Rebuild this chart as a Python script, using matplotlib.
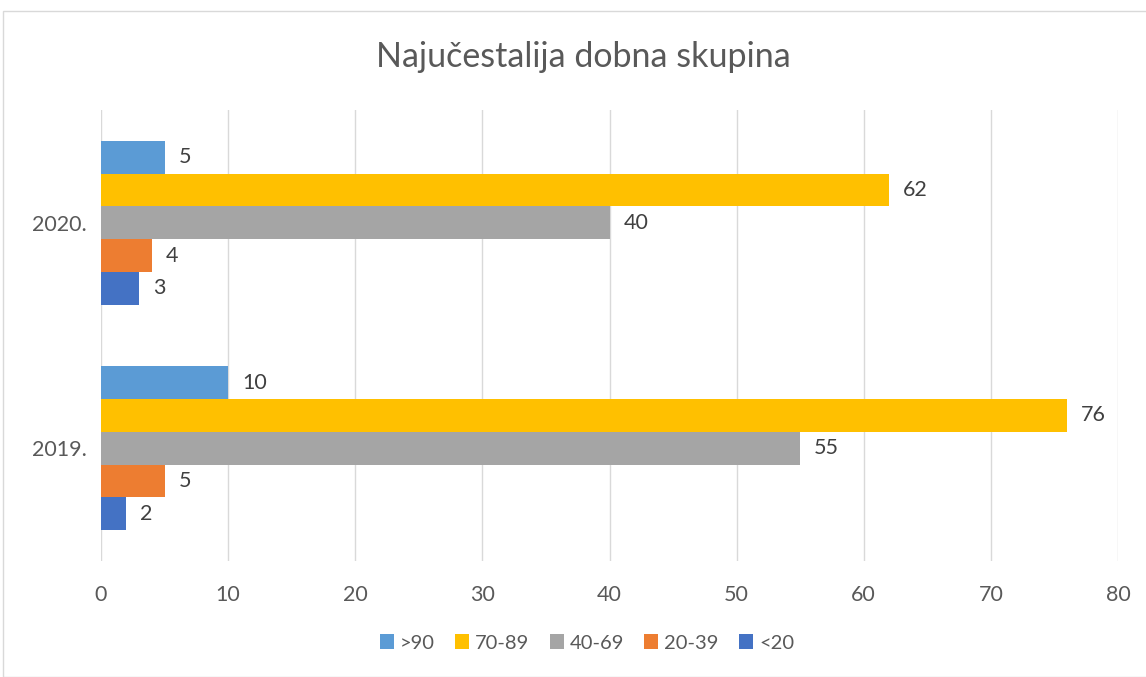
import matplotlib
matplotlib.use("Agg")
import matplotlib.pyplot as plt
import numpy as np
from matplotlib.patches import Rectangle

years = ["2019.", "2020."]
series = [">90", "70-89", "40-69", "20-39", "<20"]
values = {
    ">90":   [10, 5],
    "70-89": [76, 62],
    "40-69": [55, 40],
    "20-39": [5, 4],
    "<20":   [2, 3],
}
colors = {
    ">90": "#5B9BD5",
    "70-89": "#FFC000",
    "40-69": "#A5A5A5",
    "20-39": "#ED7D31",
    "<20": "#4472C4",
}
xticks = [0, 10, 20, 30, 40, 50, 60, 70, 80]

plt.rcParams['font.family'] = ['Lato', 'DejaVu Sans']
txt = "#595959"
fs = 15.5

fig = plt.figure(figsize=(11.46, 6.77), dpi=100)
ax = fig.add_axes([101/1146, 1-561/677, (1118-101)/1146, (561-110)/677])

# figure border
fig.patches.append(Rectangle((3/1146, 0), 1.2, 1-11/677, transform=fig.transFigure,
                             fill=False, edgecolor="#D9D9D9", linewidth=1))

h = 0.1455
n = len(series)
y = np.arange(len(years))
for i, s in enumerate(series):
    offset = (n - 1) / 2 * h - i * h
    bars = ax.barh(y + offset, values[s], height=h, color=colors[s], label=s, zorder=3)
    for b, v in zip(bars, values[s]):
        ax.annotate(str(v), (b.get_width(), b.get_y() + b.get_height() / 2),
                    xytext=(10, 0), textcoords="offset points", va="center", ha="left",
                    fontsize=fs, color="#404040")

ax.set_xlim(0, 80)
ax.set_ylim(-0.5, 1.5)
ax.set_xticks(xticks)
ax.set_yticks(y)
ax.set_yticklabels(years)
ax.tick_params(axis="both", length=0, labelsize=fs, labelcolor=txt)
ax.tick_params(axis="x", pad=17)
ax.tick_params(axis="y", pad=10)
ax.grid(axis="x", color="#D9D9D9", linewidth=1, zorder=0)
for sp in ax.spines.values():
    sp.set_visible(False)

fig.text(583/1146, 1-57/677, "Najučestalija dobna skupina", ha="center", va="center",
         fontsize=24.5, color=txt)

leg = ax.legend(loc="center", bbox_to_anchor=(587/1146, 1-643/677), bbox_transform=fig.transFigure,
                ncol=5, frameon=False, fontsize=14.5, handlelength=0.7, handleheight=0.7,
                handletextpad=0.3, columnspacing=1.0, labelcolor=txt)

fig.savefig("out.png", dpi=100)
